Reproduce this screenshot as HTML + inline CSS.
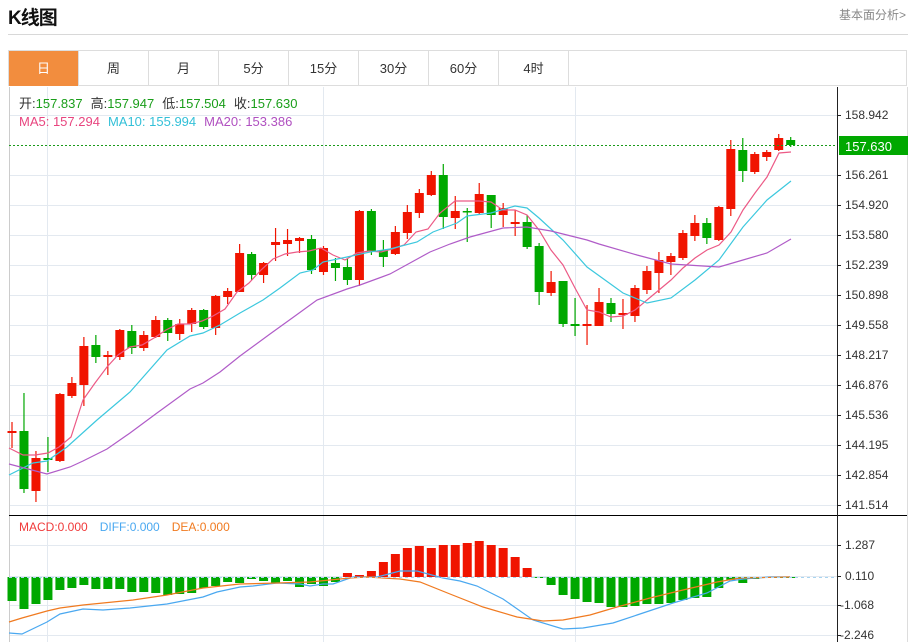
<!DOCTYPE html>
<html><head><meta charset="utf-8"><style>
body{margin:0;width:910px;height:642px;background:#fff;overflow:hidden;font-family:"Liberation Sans","Noto Sans CJK SC",sans-serif;}
.h{position:absolute;left:8px;top:3px;font-size:19px;font-weight:bold;color:#111;letter-spacing:-1px}
.r{position:absolute;right:4px;top:6px;font-size:12px;color:#888}
.hl{position:absolute;left:8px;top:34px;width:900px;height:1px;background:#d8d8d8}
.tabs{position:absolute;left:8px;top:50px;width:899px;height:36px;border:1px solid #ddd;box-sizing:border-box;}
.tab{position:absolute;top:0;height:35px;width:70px;border-right:1px solid #ddd;font-size:13px;color:#333;text-align:center;line-height:35px;box-sizing:border-box}
svg{position:absolute;left:0;top:0}
</style></head><body>
<div class="h">K线图</div><div class="r">基本面分析&gt;</div><div class="hl"></div>
<div class="tabs">
<div class="tab" style="left:0;background:#f28d3e;color:#fff">日</div>
<div class="tab" style="left:70px">周</div>
<div class="tab" style="left:140px">月</div>
<div class="tab" style="left:210px">5分</div>
<div class="tab" style="left:280px">15分</div>
<div class="tab" style="left:350px">30分</div>
<div class="tab" style="left:420px">60分</div>
<div class="tab" style="left:490px">4时</div>
</div>
<svg id="s" width="910" height="642" xmlns="http://www.w3.org/2000/svg" font-family="Liberation Sans, Noto Sans CJK SC, sans-serif">
<g stroke="#e3e9f0" stroke-width="1" id="grid"></g>
<line x1="9.5" y1="87" x2="9.5" y2="642" stroke="#ccc"/>
<line x1="907.5" y1="87" x2="907.5" y2="642" stroke="#ddd"/>
<g id="c"></g>
<line x1="9" y1="145.5" x2="837" y2="145.5" stroke="#1a9a1a" stroke-dasharray="2,2"/>
<line x1="9" y1="577.5" x2="837" y2="577.5" stroke="#a8d4f0" stroke-dasharray="3,3"/>
<line x1="9" y1="515.5" x2="907" y2="515.5" stroke="#000"/>
<line x1="837.5" y1="87" x2="837.5" y2="642" stroke="#222"/>
<g id="ax" font-size="12" fill="#333"></g>
<rect x="839" y="136" width="69" height="19" fill="#00a800"/>
<text x="845" y="151" font-size="13" fill="#fff">157.630</text>
<text x="19" y="108" font-size="13"><tspan fill="#333">开:</tspan><tspan fill="#1a9e1a">157.837</tspan><tspan fill="#333" dx="8">高:</tspan><tspan fill="#1a9e1a">157.947</tspan><tspan fill="#333" dx="8">低:</tspan><tspan fill="#1a9e1a">157.504</tspan><tspan fill="#333" dx="8">收:</tspan><tspan fill="#1a9e1a">157.630</tspan></text>
<text x="19" y="126" font-size="13"><tspan fill="#e8457f">MA5: 157.294</tspan><tspan fill="#33c0d8" dx="8">MA10: 155.994</tspan><tspan fill="#b050c0" dx="8">MA20: 153.386</tspan></text>
<text x="19" y="531" font-size="12"><tspan fill="#f03a3a">MACD:0.000</tspan><tspan fill="#4aa8f0" dx="12">DIFF:0.000</tspan><tspan fill="#f07a20" dx="12">DEA:0.000</tspan></text>
<text x="845" y="119" font-size="12" fill="#333">158.942</text>
<text x="845" y="179" font-size="12" fill="#333">156.261</text>
<text x="845" y="209" font-size="12" fill="#333">154.920</text>
<text x="845" y="239" font-size="12" fill="#333">153.580</text>
<text x="845" y="269" font-size="12" fill="#333">152.239</text>
<text x="845" y="299" font-size="12" fill="#333">150.898</text>
<text x="845" y="329" font-size="12" fill="#333">149.558</text>
<text x="845" y="359" font-size="12" fill="#333">148.217</text>
<text x="845" y="389" font-size="12" fill="#333">146.876</text>
<text x="845" y="419" font-size="12" fill="#333">145.536</text>
<text x="845" y="449" font-size="12" fill="#333">144.195</text>
<text x="845" y="479" font-size="12" fill="#333">142.854</text>
<text x="845" y="509" font-size="12" fill="#333">141.514</text>
<text x="845" y="549" font-size="12" fill="#333">1.287</text>
<text x="845" y="580" font-size="12" fill="#333">0.110</text>
<text x="840" y="609" font-size="12" fill="#333">-1.068</text>
<text x="840" y="639" font-size="12" fill="#333">-2.246</text>
</svg>
<script>
var NS="http://www.w3.org/2000/svg",g=document.getElementById('grid'),c=document.getElementById('c'),ax=document.getElementById('ax');
function el(p,t,a){var e=document.createElementNS(NS,t);for(var k in a)e.setAttribute(k,a[k]);p.appendChild(e);return e;}
var hy=[115,175,205,235,265,295,325,355,385,415,445,475,505,545,576,605,635];
hy.forEach(function(y){el(g,'line',{x1:9,x2:837,y1:y+.5,y2:y+.5});el(c,'line',{x1:837,x2:841,y1:y+.5,y2:y+.5,stroke:'#222'});});
[47,323,575].forEach(function(x){el(g,'line',{x1:x+.5,x2:x+.5,y1:87,y2:642});});
// [top,bottom,high,low,isRed]
var K=[[431,433,422,448,1],[431,489,393,493,0],[458,491,451,502,1],[458,460,437,472,0],[394,461,393,462,1],[383,396,377,398,1],[346,385,337,406,1],[345,357,335,363,0],[355,357,351,375,1],[330,357,329,360,1],[331,348,325,354,0],[335,348,331,351,1],[320,337,316,338,1],[320,333,318,341,0],[324,334,319,340,1],[310,324,308,332,1],[310,327,309,329,0],[296,328,295,335,1],[291,297,288,304,1],[253,292,244,292,1],[254,275,252,280,0],[263,275,262,283,1],[242,245,228,261,1],[240,244,229,256,1],[238,241,237,253,1],[239,270,235,274,0],[248,272,246,275,1],[263,268,258,281,0],[267,280,259,285,0],[211,280,210,286,1],[211,251,209,255,0],[250,257,240,267,0],[232,254,226,255,1],[212,233,205,239,1],[193,213,189,218,1],[175,195,171,196,1],[175,217,164,229,0],[211,218,196,229,1],[211,212,208,242,0],[194,213,183,215,1],[195,215,195,228,0],[208,215,203,227,1],[222,224,210,236,1],[222,247,215,249,0],[246,292,243,305,0],[282,293,271,296,1],[281,324,281,327,0],[324,326,298,336,0],[324,326,305,345,1],[302,326,288,326,1],[303,314,298,322,0],[313,315,299,329,1],[288,316,285,322,1],[271,290,266,294,1],[260,273,252,293,1],[256,262,253,275,1],[233,258,230,260,1],[223,236,215,241,1],[223,238,218,244,0],[207,240,206,241,1],[149,209,140,216,1],[150,171,138,182,0],[154,172,152,174,1],[152,157,150,161,1],[138,150,134,151,1],[140,145,137,147,0]];
var M=[601,609,604,600,590,588,585,589,589,589,592,592,593,595,594,593,588,586,582,583,579,581,583,581,587,584,586,582,573,575,571,562,554,548,546,548,545,545,543,541,545,548,557,568,578,585,595,599,602,603,607,607,606,604,604,603,600,598,597,588,580,583,579,578,578,577];
K.forEach(function(k,i){var x=12+11.98*i,col=k[4]?'#f01400':'#00a800';
el(c,'line',{x1:x,x2:x,y1:k[2],y2:k[3],stroke:col,'stroke-width':1.2});
var h=Math.max(k[1]-k[0],1.5);el(c,'rect',{x:x-4.5,y:k[0],width:9,height:h,fill:col});
var m=M[i],mc=m<577?'#f01400':'#00a800',y0=Math.min(m,577),hh=Math.max(Math.abs(m-577),1);
el(c,'rect',{x:x-4.5,y:y0,width:9,height:hh,fill:mc});});
function pl(pts,col){el(c,'polyline',{points:pts,fill:'none',stroke:col,'stroke-width':1.2});}
pl("9,448 23,455 35,455 48,453 59,447 71,437 83,400 95,383 107,367 118,355 130,347 142,345 154,338 166,330 178,324 190,324 202,321 213,316 225,309 237,292 249,283 261,270 273,259 285,254 297,252 309,251 321,248 333,255 345,260 357,253 369,251 381,252 392,249 404,245 416,232 428,229 440,213 455,201 467,201 479,201 491,202 503,210 515,210 527,215 539,230 551,250 563,265 575,288 587,310 599,312 611,317 623,316 635,310 647,300 659,290 671,280 683,268 695,258 707,250 719,245 731,232 743,210 755,193 767,177 779,153 791,152","#ec5a86");
pl("9,475 33,463 47,461 67,447 97,420 130,392 167,350 190,336 203,333 220,325 240,313 263,300 280,288 300,273 313,270 323,262 347,257 370,252 390,249 417,242 433,232 457,223 467,216 491,213 515,206 527,208 539,218 563,240 587,267 623,293 647,303 671,298 695,280 719,260 743,227 767,200 791,181","#3cc8de");
pl("9,464 47,474 70,467 83,461 107,449 130,433 157,413 190,389 203,383 220,372 240,356 270,334 295,316 317,300 347,289 360,285 390,274 410,263 430,252 450,244 470,237 503,228 527,227 551,231 587,240 599,244 637,255 671,264 719,267 743,260 767,253 791,239","#b05cc8");
pl("9,633 22,634 47,622 60,614 83,609 103,610 130,608 167,604 203,597 217,592 240,587 253,586 277,583 300,584 310,586 323,584 333,584 353,577 377,577 400,571 417,571 443,578 460,581 477,586 503,599 533,620 563,629 583,628 613,623 637,615 673,603 707,593 730,581 743,579 770,577 790,577","#4aa8f0");
pl("9,622 22,618 47,611 60,608 83,605 103,603 133,600 167,595 203,588 240,584 277,583 310,582 350,578 367,577 400,579 420,582 450,594 483,607 517,617 543,621 563,620 590,615 617,607 650,598 683,590 717,582 740,578 790,577","#f07a20");
</script>
</body></html>
